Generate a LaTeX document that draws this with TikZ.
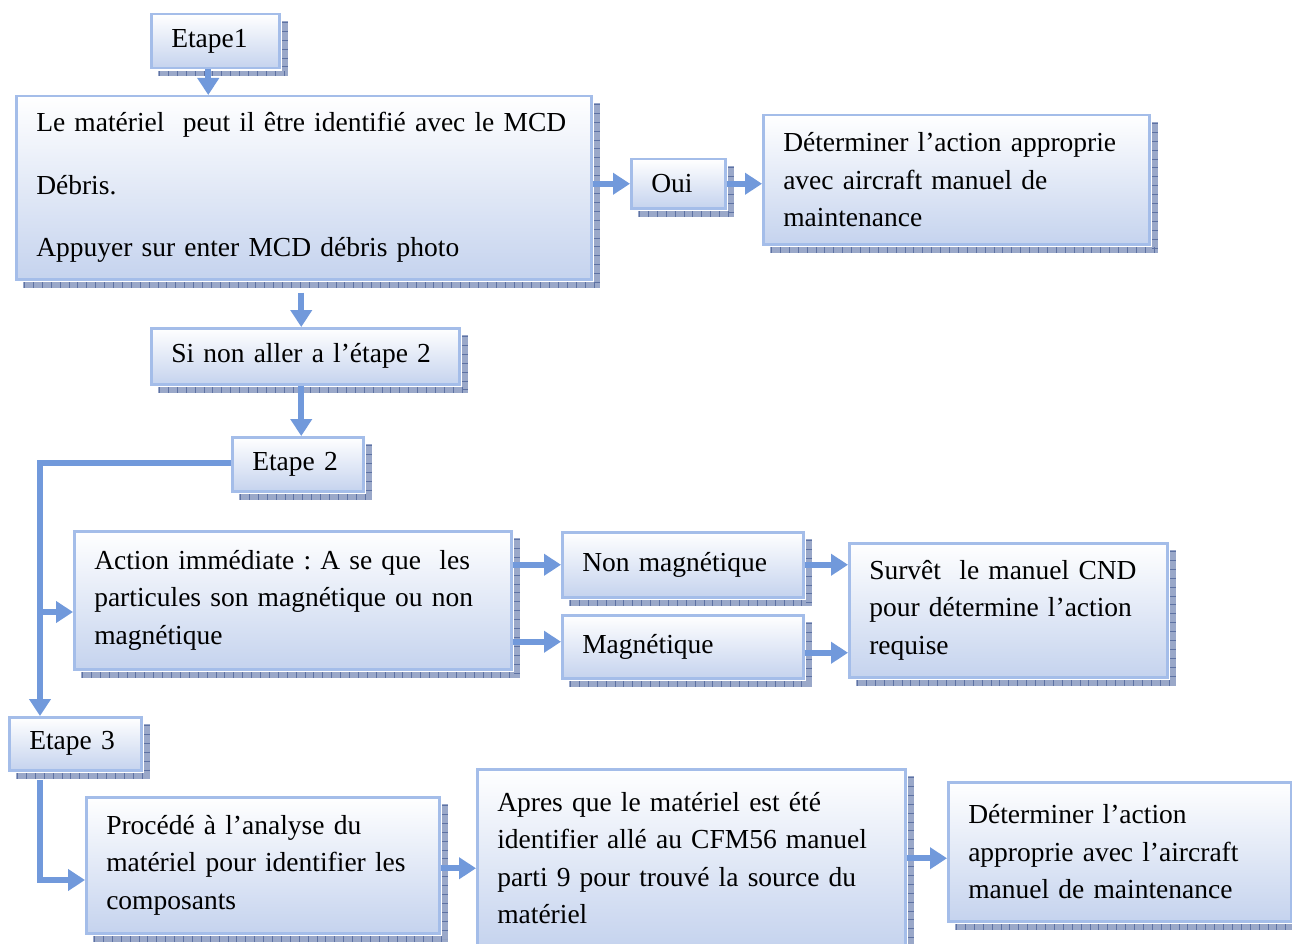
\documentclass[tikz,border=0pt]{standalone}
\usepackage{fontspec}
\setmainfont{Liberation Serif}
\usetikzlibrary{arrows.meta,calc,backgrounds}

\definecolor{boxbot}{HTML}{C5D3EE}
\definecolor{boxline}{HTML}{A4BDE9}
\definecolor{arrowblue}{HTML}{7199DB}
\definecolor{shadowfill}{HTML}{9AA8C9}
\definecolor{shadowtick}{HTML}{5E72A3}

\tikzset{
  flowbox/.style={draw=boxline, line width=2.5pt, top color=white, bottom color=boxbot,
    anchor=north west, inner xsep=20pt, inner ysep=0pt, align=left,
    font=\fontsize{27.5}{37.5}\selectfont\frenchspacing},
  arr/.style={draw=arrowblue, line width=6pt,
    -{Triangle[width=21pt,length=17pt]}, arrowblue}
}

% #1 name, #2 x, #3 y, #4 text width, #5 height, #6 text
\newcommand\flowbox[6]{%
  \node[flowbox, text width=#4pt, minimum height=#5pt] (#1) at (#2,#3) {#6};}

\begin{document}
\begin{tikzpicture}[x=1pt,y=-1pt]
\useasboundingbox (0,0) rectangle (1292,944);

% boxes: top-left corner, text width (box width - 40), height
\flowbox{e1}{150}{13}{88}{54}{Etape1}
\flowbox{b1}{15}{95}{535}{183}{Le matériel~~peut il être identifié avec le MCD\\[25pt]Débris.\\[25pt]Appuyer sur enter MCD débris photo}
\flowbox{oui}{630}{158}{54}{49}{Oui}
\flowbox{det1}{762}{114}{346}{129}{Déterminer l’action approprie\\avec aircraft manuel de\\maintenance}
\flowbox{sinon}{150}{327}{268}{56}{Si non aller a l’étape 2}
\flowbox{e2}{231}{436}{91}{54}{Etape 2}
\flowbox{act}{73}{530}{397}{138}{Action immédiate : A se que~~les\\particules son magnétique ou non\\magnétique}
\flowbox{nonm}{561}{531}{201}{65}{Non magnétique}
\flowbox{mag}{561}{614}{201}{63}{Magnétique}
\flowbox{surv}{848}{542}{278}{134}{Survêt~~le manuel CND\\pour détermine l’action\\requise}
\flowbox{e3}{8}{716}{92}{53}{Etape 3}
\flowbox{proc}{85}{796}{313}{136}{Procédé à l’analyse du\\matériel pour identifier les\\composants}
\flowbox{apres}{476}{768}{388}{178}{Apres que le matériel est été\\identifier allé au CFM56 manuel\\parti 9 pour trouvé la source du\\matériel}
\flowbox{det2}{947}{781}{303}{139}{Déterminer l’action\\approprie avec l’aircraft\\manuel de maintenance}

% patterned drop shadows on the right and bottom edges, behind everything
\begin{pgfonlayer}{background}
\foreach \n in {e1,b1,oui,det1,sinon,e2,act,nonm,mag,surv,e3,proc,apres,det2}{
  \fill[shadowfill] ($(\n.north east)+(1.5,8)$) rectangle ($(\n.south east)+(7,7)$);
  \fill[shadowfill] ($(\n.south west)+(8,1.5)$) rectangle ($(\n.south east)+(7,7)$);
  \draw[shadowtick, line width=5.5pt, dash pattern=on 0.9pt off 8pt]
    ($(\n.north east)+(4.25,9)$) -- ($(\n.south east)+(4.25,4)$);
  \draw[shadowtick, line width=5.5pt, dash pattern=on 0.9pt off 8pt]
    ($(\n.south west)+(9,4.25)$) -- ($(\n.south east)+(4,4.25)$);
}
\end{pgfonlayer}

% connector end points
\coordinate (a1) at ($(e1.south)+(-7,0)$);
\coordinate (a2) at ($(b1.south -| sinon.north)+(-4,12)$);
\coordinate (a3) at ($(sinon.south)+(-4,0)$);
\coordinate (bend) at (40,463);
\coordinate (br) at (40,612);
\coordinate (s3) at (40,780);
\coordinate (k3) at (40,880);
\coordinate (m1) at ($(mag.west -| act.east)+(0,-5)$);
\coordinate (m2) at ($(mag.east)+(0,6)$);
\coordinate (p1) at ($(proc.east)+(0,3)$);

\draw[arr] (a1) -- (a1 |- b1.north);
\draw[arr] (b1.east |- oui.west) -- (oui.west);
\draw[arr] (oui.east) -- (oui.east -| det1.west);
\draw[arr] (a2) -- (a2 |- sinon.north);
\draw[arr] (a3) -- (a3 |- e2.north);
\draw[arr] (e2.west |- bend) -- (bend) -- (bend |- e3.north);
\draw[arr] (br) -- (br -| act.west);
\draw[arr] (nonm.west -| act.east) -- (nonm.west);
\draw[arr] (m1) -- (m1 -| mag.west);
\draw[arr] (nonm.east) -- (nonm.east -| surv.west);
\draw[arr] (m2) -- (m2 -| surv.west);
\draw[arr] (s3) -- (k3) -- (k3 -| proc.west);
\draw[arr] (p1) -- (p1 -| apres.west);
\draw[arr] (apres.east) -- (apres.east -| det2.west);
\end{tikzpicture}
\end{document}
